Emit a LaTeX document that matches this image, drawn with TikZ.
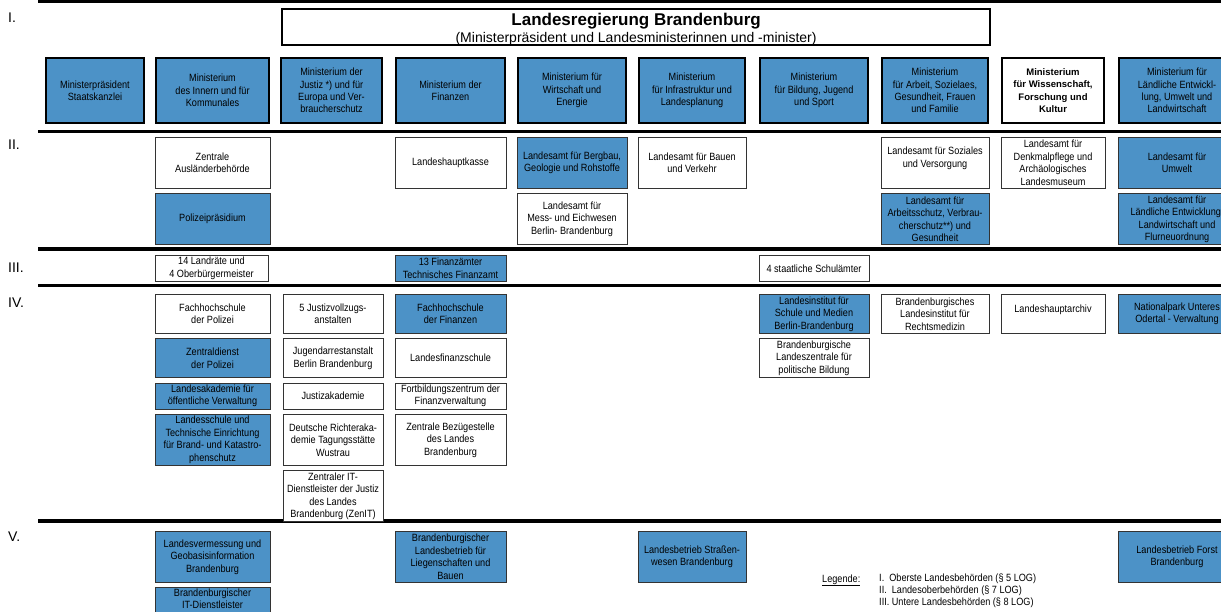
\documentclass[tikz,border=0pt]{standalone}
\usepackage{fontspec}
\setmainfont{Liberation Sans}
\newfontfamily\narrowfont[FakeStretch=0.87]{Liberation Sans}
\usetikzlibrary{positioning}
\definecolor{amtblue}{RGB}{76,146,199}

\begin{document}
\begin{tikzpicture}[x=1pt, y=1pt, node distance = 4.5pt]
  \tikzstyle{ministerium} = [rectangle, draw, line width=2pt, fill=amtblue, align=center, minimum height=65pt, inner sep=1pt, font=\narrowfont\fontsize{10.5}{12.3}\selectfont]
  \tikzstyle{amt} = [rectangle, draw=black!80, line width=0.8pt, fill=white, align=center, inner sep=1pt, font=\narrowfont\fontsize{10.5}{12.5}\selectfont]
  \tikzstyle{blau} = [fill=amtblue]
  \tikzstyle{hoch} = [minimum height=51pt]
  \tikzstyle{mittel} = [minimum height=39pt]
  \tikzstyle{flach} = [minimum height=26pt]
  \tikzstyle{trenner} = [line width=3.5pt]
  \tikzstyle{ebene} = [anchor=west, inner sep=0pt, font=\fontsize{14}{14}\selectfont]
  \tikzstyle{legende} = [inner sep=0pt, font=\narrowfont\fontsize{10.5}{11.8}\selectfont]
  \clip (0,0) rectangle (1221,-611);

  % Ebenen und Trennlinien
  \draw [line width=3pt] (38,-1.5) -- (1221,-1.5);
  \draw [trenner] (38,-131.5) -- (1221,-131.5);
  \draw [trenner] (38,-249) -- (1221,-249);
  \draw [trenner] (38,-285.5) -- (1221,-285.5);
  \draw [trenner] (38,-521) -- (1221,-521);
  \node [ebene] (ebeneI) at (8,-18) {I.};
  \node [ebene] (ebeneII) at (8,-145) {II.};
  \node [ebene] (ebeneIII) at (8,-268) {III.};
  \node [ebene] (ebeneIV) at (8,-303) {IV.};
  \node [ebene] (ebeneV) at (8,-537) {V.};

  % Landesregierung
  \node [draw, line width=2.2pt, minimum width=708pt, minimum height=36pt, anchor=north west] (landesregierung) at (281,-8) {};
  \node [align=center, inner sep=0pt] (titel) at ([yshift=-2pt]landesregierung.center)
    {{\fontsize{17}{18}\selectfont\bfseries Landesregierung Brandenburg}\\[2pt]{\fontsize{14}{15}\selectfont (Ministerpräsident und Landesministerinnen und -minister)}};

  % I. Oberste Landesbehoerden
  \node [ministerium, anchor=north west, minimum width=98pt] (staatskanzlei) at (45,-57) {Ministerpräsident\\Staatskanzlei};
  \node [ministerium, minimum width=113pt, right = 10pt of staatskanzlei] (innen) {Ministerium\\des Innern und für\\Kommunales};
  \node [ministerium, minimum width=101pt, right = 10pt of innen] (justiz) {Ministerium der\\Justiz *) und für\\Europa und Ver-\\braucherschutz};
  \node [ministerium, minimum width=109pt, right = 12pt of justiz] (finanzen) {Ministerium der\\Finanzen};
  \node [ministerium, minimum width=108pt, right = 11pt of finanzen] (wirtschaft) {Ministerium für\\Wirtschaft und\\Energie};
  \node [ministerium, minimum width=106pt, right = 11pt of wirtschaft] (infrastruktur) {Ministerium\\für Infrastruktur und\\Landesplanung};
  \node [ministerium, minimum width=108pt, right = 13pt of infrastruktur] (bildung) {Ministerium\\für Bildung, Jugend\\und Sport};
  \node [ministerium, minimum width=106pt, right = 12pt of bildung] (arbeit) {Ministerium\\für Arbeit, Sozielaes,\\Gesundheit, Frauen\\und Familie};
  \node [ministerium, minimum width=102pt, right = 12pt of arbeit, fill=white, font=\fontsize{9.5}{12.3}\selectfont\bfseries] (wissenschaft) {Ministerium\\für Wissenschaft,\\Forschung und\\Kultur};
  \node [ministerium, minimum width=116pt, right = 13pt of wissenschaft] (laendlich) {Ministerium für\\Ländliche Entwickl-\\lung, Umwelt und\\Landwirtschaft};

  \coordinate (rowII) at (0,-137);
  \coordinate (rowIII) at (0,-255);
  \coordinate (rowIV) at (0,-294);
  \coordinate (rowV) at (0,-531);

  % II. Landesoberbehoerden
  \node [amt, hoch, minimum width=115pt, anchor=north] (auslaender) at (innen |- rowII) {Zentrale\\Ausländerbehörde};
  \node [amt, hoch, blau, minimum width=115pt, below = of auslaender] (polizeiPraesidium) {Polizeipräsidium};
  \node [amt, hoch, minimum width=111pt, anchor=north] (hauptkasse) at (finanzen |- rowII) {Landeshauptkasse};
  \node [amt, hoch, blau, minimum width=110pt, anchor=north] (bergbau) at (wirtschaft |- rowII) {Landesamt für Bergbau,\\Geologie und Rohstoffe};
  \node [amt, hoch, minimum width=110pt, below = of bergbau] (messEich) {Landesamt für\\Mess- und Eichwesen\\Berlin- Brandenburg};
  \node [amt, hoch, minimum width=108pt, anchor=north] (bauenVerkehr) at (infrastruktur |- rowII) {Landesamt für Bauen\\und Verkehr};
  \node [amt, hoch, minimum width=108pt, anchor=north] (soziales) at (arbeit |- rowII) {Landesamt für Soziales\\und Versorgung\\[-1pt]};
  \node [amt, hoch, blau, minimum width=108pt, below = of soziales] (arbeitsschutz) {Landesamt für\\Arbeitsschutz, Verbrau-\\cherschutz**) und\\Gesundheit};
  \node [amt, hoch, minimum width=104pt, anchor=north] (denkmal) at (wissenschaft |- rowII) {Landesamt für\\Denkmalpflege und\\Archäologisches\\Landesmuseum};
  \node [amt, hoch, blau, minimum width=118pt, anchor=north] (umwelt) at (laendlich |- rowII) {Landesamt für\\Umwelt};
  \node [amt, hoch, blau, minimum width=118pt, below = of umwelt] (laendlicheEntw) {Landesamt für\\Ländliche Entwicklung,\\Landwirtschaft und\\Flurneuordnung};

  % III. Untere Landesbehoerden
  \node [amt, flach, minimum width=113pt, anchor=north] (landraete) at ([xshift=-1pt]innen |- rowIII) {14 Landräte und\\4 Oberbürgermeister};
  \node [amt, flach, blau, minimum width=111pt, anchor=north] (finanzaemter) at (finanzen |- rowIII) {13 Finanzämter\\Technisches Finanzamt};
  \node [amt, flach, minimum width=110pt, anchor=north] (schulaemter) at (bildung |- rowIII) {4 staatliche Schulämter};

  % IV. Einrichtungen
  \node [amt, mittel, minimum width=115pt, anchor=north] (fhPolizei) at (innen |- rowIV) {Fachhochschule\\der Polizei};
  \node [amt, mittel, blau, minimum width=115pt, below = of fhPolizei] (zentraldienst) {Zentraldienst\\der Polizei};
  \node [amt, flach, blau, minimum width=115pt, below = of zentraldienst] (landesakademie) {Landesakademie für\\öffentliche Verwaltung};
  \node [amt, hoch, blau, minimum width=115pt, below = of landesakademie] (landesschule) {Landesschule und\\Technische Einrichtung\\für Brand- und Katastro-\\phenschutz};
  \node [amt, mittel, minimum width=100pt, anchor=north] (justizvollzug) at ([xshift=1.5pt]justiz |- rowIV) {5 Justizvollzugs-\\anstalten};
  \node [amt, mittel, minimum width=100pt, below = of justizvollzug] (jugendarrest) {Jugendarrestanstalt\\Berlin Brandenburg};
  \node [amt, flach, minimum width=100pt, below = of jugendarrest] (justizakademie) {Justizakademie};
  \node [amt, hoch, minimum width=100pt, below = of justizakademie] (richterakademie) {Deutsche Richteraka-\\demie Tagungsstätte\\Wustrau};
  \node [amt, hoch, minimum width=100pt, below = of richterakademie] (zenit) {Zentraler IT-\\Dienstleister der Justiz\\des Landes\\Brandenburg (ZenIT)};
  \node [amt, mittel, blau, minimum width=111pt, anchor=north] (fhFinanzen) at (finanzen |- rowIV) {Fachhochschule\\der Finanzen};
  \node [amt, mittel, minimum width=111pt, below = of fhFinanzen] (finanzschule) {Landesfinanzschule};
  \node [amt, flach, minimum width=111pt, below = of finanzschule] (fortbildung) {Fortbildungszentrum der\\Finanzverwaltung};
  \node [amt, hoch, minimum width=111pt, below = of fortbildung] (bezuegestelle) {Zentrale Bezügestelle\\des Landes\\Brandenburg};
  \node [amt, mittel, blau, minimum width=110pt, anchor=north] (lisum) at (bildung |- rowIV) {Landesinstitut für\\Schule und Medien\\Berlin-Brandenburg};
  \node [amt, mittel, minimum width=110pt, below = of lisum] (landeszentrale) {Brandenburgische\\Landeszentrale für\\politische Bildung};
  \node [amt, mittel, minimum width=108pt, anchor=north] (rechtsmedizin) at (arbeit |- rowIV) {Brandenburgisches\\Landesinstitut für\\Rechtsmedizin};
  \node [amt, mittel, minimum width=104pt, anchor=north] (hauptarchiv) at (wissenschaft |- rowIV) {Landeshauptarchiv\\[-2pt]};
  \node [amt, mittel, blau, minimum width=118pt, anchor=north] (nationalpark) at (laendlich |- rowIV) {Nationalpark Unteres\\Odertal - Verwaltung};

  % V. Landesbetriebe
  \node [amt, hoch, blau, minimum width=115pt, anchor=north] (vermessung) at (innen |- rowV) {Landesvermessung und\\Geobasisinformation\\Brandenburg};
  \node [amt, hoch, blau, minimum width=115pt, below = of vermessung] (itDienstleister) {Brandenburgischer\\IT-Dienstleister\\\\[14pt]};
  \node [amt, hoch, blau, minimum width=111pt, anchor=north] (liegenschaften) at (finanzen |- rowV) {Brandenburgischer\\Landesbetrieb für\\Liegenschaften und\\Bauen};
  \node [amt, hoch, blau, minimum width=108pt, anchor=north] (strassenwesen) at (infrastruktur |- rowV) {Landesbetrieb Straßen-\\wesen Brandenburg};
  \node [amt, hoch, blau, minimum width=118pt, anchor=north] (forst) at (laendlich |- rowV) {Landesbetrieb Forst\\Brandenburg};

  % Legende
  \node [legende, anchor=base west] (legendeTitel) at (822,-582) {\underline{Legende:}};
  \node [legende, anchor=north west, align=left] (legendeText) at (879,-574) {I.\ \ Oberste Landesbehörden (§ 5 LOG)\\II.\ \ Landesoberbehörden (§ 7 LOG)\\III. Untere Landesbehörden (§ 8 LOG)};
\end{tikzpicture}
\end{document}
